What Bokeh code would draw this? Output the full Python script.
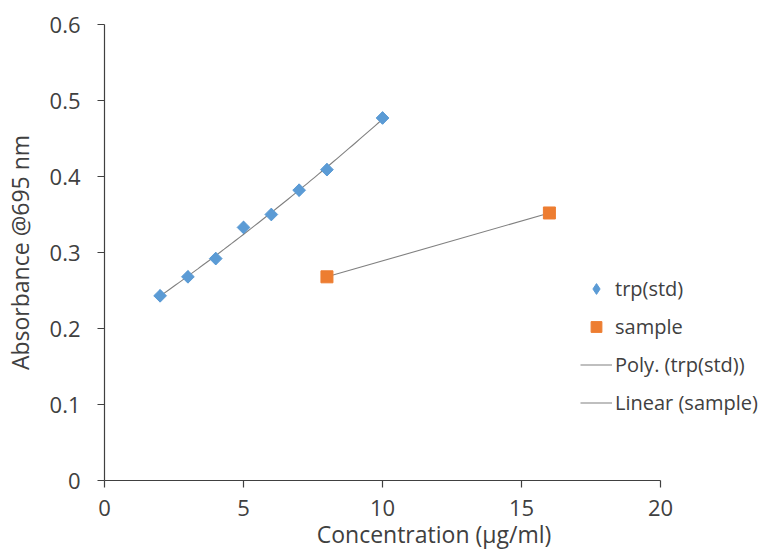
import numpy as np
from bokeh.plotting import figure
from bokeh.models import Legend, LegendItem, FixedTicker, NumeralTickFormatter, Range1d
from bokeh.embed import file_html
from bokeh.resources import INLINE

# data
trp_x = [2, 3, 4, 5, 6, 7, 8, 10]
trp_y = [0.243, 0.268, 0.292, 0.333, 0.350, 0.382, 0.409, 0.477]
sample_x = [8, 16]
sample_y = [0.268, 0.352]
x_ticks = [0, 5, 10, 15, 20]
y_ticks = [0, 0.1, 0.2, 0.3, 0.4, 0.5, 0.6]

# layout: axis drawn 0..20, frame continues right to hold the legend
X_AXIS_MAX = 20
X_VIEW_MAX = 23.7

FONT = "Open Sans"
TXT = "#404040"
BLUE = "#5B9BD5"
ORANGE = "#ED7D31"

p = figure(width=763, height=552, output_backend="svg", toolbar_location=None,
           x_range=Range1d(0, X_VIEW_MAX), y_range=Range1d(0, 0.6),
           min_border_left=104, min_border_right=0, min_border_top=24, min_border_bottom=72)
p.outline_line_color = None
p.xgrid.visible = False
p.ygrid.visible = False

# trendlines
coef = np.polyfit(trp_x, trp_y, 2)
px = np.linspace(min(trp_x), max(trp_x), 60)
py = np.polyval(coef, px)
poly = p.line(px, py, line_color="#808080", line_width=1.1)
lin = p.line(sample_x, sample_y, line_color="#808080", line_width=1.1)

# diamond key (used for the legend), covered by the rotated-square markers
trp_key = p.scatter(trp_x, trp_y, marker="diamond", size=12,
                    fill_color=BLUE, line_color=BLUE)
trp = p.scatter(trp_x, trp_y, marker="square", angle=np.pi / 4, size=9,
                fill_color=BLUE, line_color=BLUE)
smp = p.scatter(sample_x, sample_y, marker="square", size=12,
                fill_color=ORANGE, line_color=ORANGE)

for ax in (p.xaxis[0], p.yaxis[0]):
    ax.axis_line_color = "#404040"
    ax.axis_line_width = 1.2
    ax.major_tick_line_color = "#404040"
    ax.major_tick_line_width = 1.2
    ax.major_tick_out = 7
    ax.major_tick_in = 0
    ax.minor_tick_line_color = None
    ax.major_label_text_font = FONT
    ax.major_label_text_font_size = "22px"
    ax.major_label_text_color = TXT
    ax.axis_label_text_font = FONT
    ax.axis_label_text_font_size = "23px"
    ax.axis_label_text_font_style = "normal"
    ax.axis_label_text_color = TXT

p.xaxis.bounds = (0, X_AXIS_MAX)
p.xaxis.ticker = FixedTicker(ticks=x_ticks)
p.yaxis.ticker = FixedTicker(ticks=y_ticks)
p.yaxis.formatter = NumeralTickFormatter(format="0.[0]")
p.xaxis.axis_label = "Concentration (µg/ml)"
p.yaxis.axis_label = "Absorbance @695 nm"
p.xaxis.major_label_standoff = 12
p.xaxis.axis_label_standoff = -1
p.yaxis.major_label_standoff = 17
p.yaxis.axis_label_standoff = 11

legend = Legend(items=[
    LegendItem(label="trp(std)", renderers=[trp_key]),
    LegendItem(label="sample", renderers=[smp]),
    LegendItem(label="Poly. (trp(std))", renderers=[poly]),
    LegendItem(label="Linear (sample)", renderers=[lin]),
], location=(476, 64), orientation="vertical")
legend.border_line_color = None
legend.background_fill_alpha = 0
legend.glyph_width = 32
legend.glyph_height = 27
legend.label_height = 27
legend.spacing = 11
legend.padding = 0
legend.margin = 0
legend.label_standoff = 3
legend.label_text_font = FONT
legend.label_text_font_size = "20px"
legend.label_text_color = TXT
p.add_layout(legend, "center")

open("out.html", "w").write(file_html(p, INLINE))
